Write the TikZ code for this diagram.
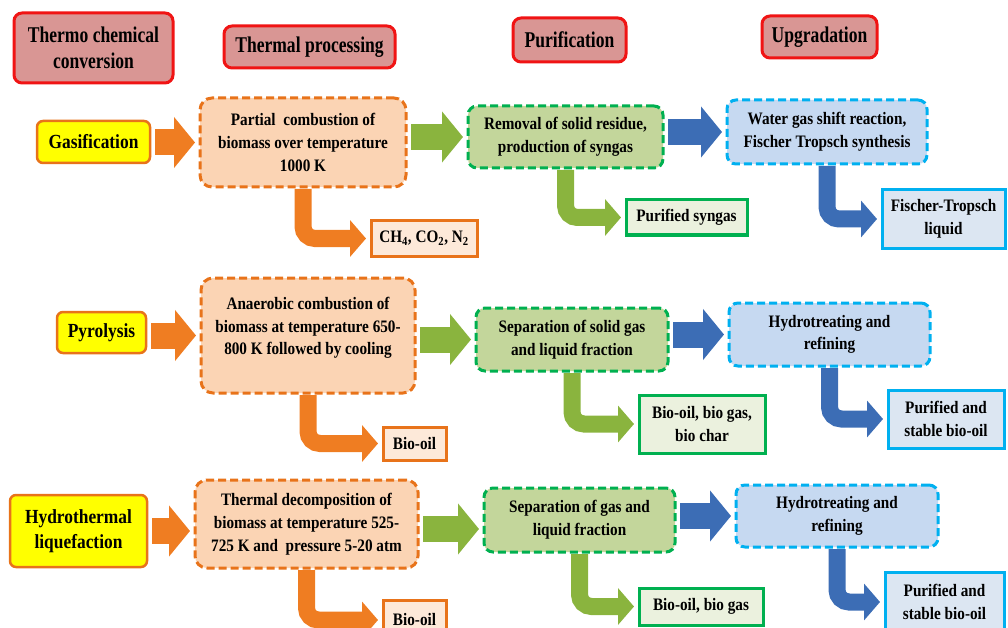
\documentclass[tikz,border=0pt]{standalone}
\usepackage{fontspec}
\setmainfont{Liberation Serif}[FakeStretch=0.87]
\newfontfamily\hdfont{Liberation Serif}[FakeStretch=0.78]
\usetikzlibrary{arrows.meta,calc}
\definecolor{hdfill}{HTML}{D99694}
\definecolor{hdred}{HTML}{F01414}
\definecolor{yel}{HTML}{FFFF00}
\definecolor{orb}{HTML}{E8731A}
\definecolor{procfill}{HTML}{FBD4B4}
\definecolor{grn}{HTML}{00B050}
\definecolor{purfill}{HTML}{C3D69B}
\definecolor{cyn}{HTML}{00B0F0}
\definecolor{upfill}{HTML}{C6D9F1}
\definecolor{outofill}{HTML}{FDE9D9}
\definecolor{outgfill}{HTML}{EBF1DE}
\definecolor{outbfill}{HTML}{DCE6F2}
\definecolor{oarr}{HTML}{EF7D22}
\definecolor{garr}{HTML}{8AB43E}
\definecolor{barr}{HTML}{3C6DB5}
\begin{document}
\begin{tikzpicture}[x=1pt,y=-1pt,
  box/.style={inner sep=0pt, outer sep=0pt, align=center, text=black,
    font=\fontsize{17.5}{22.7}\selectfont\bfseries},
  hd/.style={box, draw=hdred, fill=hdfill, line width=3pt, rounded corners=8pt,
    font=\hdfont\fontsize{22.5}{26}\selectfont\bfseries},
  inp/.style={box, draw=orb, fill=yel, line width=2.5pt, rounded corners=6pt,
    font=\fontsize{20}{25}\selectfont\bfseries},
  dashbox/.style={box, line width=3pt, dash pattern=on 8pt off 4pt},
  proc/.style={dashbox, draw=orb, fill=procfill, rounded corners=12pt},
  pur/.style={dashbox, draw=grn, fill=purfill, rounded corners=9pt},
  upg/.style={dashbox, draw=cyn, fill=upfill, rounded corners=9pt},
  outo/.style={box, draw=orb, fill=outofill, line width=3pt},
  outg/.style={box, draw=grn, fill=outgfill, line width=3pt},
  outb/.style={box, draw=cyn, fill=outbfill, line width=3pt},
  harr/.style={line width=26pt, shorten <=5pt, shorten >=5pt, -{Triangle[length=21pt,width=50pt]}},
  bent/.style={line width=17pt, rounded corners=12pt, shorten <=2pt, shorten >=5pt, -{Triangle[length=16pt,width=36pt]}},
]
\useasboundingbox (0,0) rectangle (1008,628);
\clip (0,0) rectangle (1008,628);

% headers
\node[hd, minimum width=159pt, minimum height=70pt] (h1) at (93.5,48) {Thermo chemical\\conversion};
\node[hd, minimum width=171pt, minimum height=42pt] (h2) at (309.5,47) {Thermal processing};
\node[hd, minimum width=113pt, minimum height=44pt] (h3) at (569.5,40) {Purification};
\node[hd, minimum width=115pt, minimum height=42pt] (h4) at (819.5,37) {Upgradation};

% row 1
\node[inp, minimum width=113pt, minimum height=42pt] (in1) at (93.5,142) {Gasification};
\node[proc, minimum width=206pt, minimum height=89pt] (p1) at (303,142.5) {Partial\ \ combustion of\\biomass over temperature\\1000 K};
\node[pur, minimum width=195pt, minimum height=62pt] (pu1) at (565.5,137) {Removal of solid residue,\\production of syngas};
\node[upg, minimum width=200pt, minimum height=64pt] (up1) at (827,132) {Water gas shift reaction,\\Fischer Tropsch synthesis};
\node[outo, minimum width=106pt, minimum height=35pt] (o1) at (424,238.5) {CH\textsubscript{4}, CO\textsubscript{2}, N\textsubscript{2}};
\node[outg, minimum width=121pt, minimum height=35pt] (q1) at (686.5,217.5) {Purified syngas};
\node[outb, minimum width=123pt, minimum height=58pt] (r1) at (943.5,219) {Fischer-Tropsch\\liquid};

% row 2
\node[inp, minimum width=89pt, minimum height=41pt] (in2) at (101.5,332.5) {Pyrolysis};
\node[proc, minimum width=214pt, minimum height=115pt, text depth=19pt] (p2) at (308,335.5) {Anaerobic combustion of\\biomass at temperature 650-\\800 K followed by cooling};
\node[pur, minimum width=192pt, minimum height=63pt] (pu2) at (572,339.5) {Separation of solid gas\\and liquid fraction};
\node[upg, minimum width=201pt, minimum height=63pt] (up2) at (829.5,334.5) {Hydrotreating and\\refining};
\node[outo, minimum width=63pt, minimum height=33pt] (o2) at (414.5,443.5) {Bio-oil};
\node[outg, minimum width=126pt, minimum height=58pt] (q2) at (702,424) {Bio-oil, bio gas,\\bio char};
\node[outb, minimum width=116pt, minimum height=58pt] (r2) at (946,419) {Purified and\\stable bio-oil};

% row 3
\node[inp, minimum width=137pt, minimum height=72pt] (in3) at (78.5,531) {Hydrothermal\\liquefaction};
\node[proc, minimum width=223pt, minimum height=88pt] (p3) at (306.5,524) {Thermal decomposition of\\biomass at temperature 525-\\725 K and\ \ pressure 5-20 atm};
\node[pur, minimum width=191pt, minimum height=64pt] (pu3) at (579.5,520) {Separation of gas and\\liquid fraction};
\node[upg, minimum width=202pt, minimum height=62pt] (up3) at (837,516) {Hydrotreating and\\refining};
\node[outo, minimum width=63pt, minimum height=40pt] (o3) at (414.5,620) {Bio-oil};
\node[outg, minimum width=124pt, minimum height=37pt] (q3) at (701,606.5) {Bio-oil, bio gas};
\node[outb, minimum width=119pt, minimum height=60pt] (r3) at (944.5,602) {Purified and\\stable bio-oil};

% straight arrows
\draw[harr, draw=oarr] (in1.east |- p1.west) -- (p1.west);
\draw[harr, draw=garr] (p1.east |- pu1.west) -- (pu1.west);
\draw[harr, draw=barr] (pu1.east |- up1.west) -- (up1.west);

\draw[harr, draw=oarr] (in2.east |- p2.west) -- (p2.west);
\draw[harr, draw=garr] (p2.east |- pu2.west) -- (pu2.west);
\draw[harr, draw=barr] (pu2.east |- up2.west) -- (up2.west);

\coordinate (a3) at ($(p3.east)+(0,5)$);
\draw[harr, draw=oarr] (in3.east) -- (in3.east -| p3.west);
\draw[harr, draw=garr] (a3) -- (a3 -| pu3.west);
\draw[harr, draw=barr] (pu3.east |- up3.west) -- (up3.west);

% bent arrows
\draw[bent, draw=oarr] (p1.south) |- (o1.west);
\draw[bent, draw=garr] (pu1.south) |- (q1.west);
\draw[bent, draw=barr] (up1.south) |- (r1.west);

\draw[bent, draw=oarr] (p2.south) |- (o2.west);
\draw[bent, draw=garr] (pu2.south) |- (q2.west);
\draw[bent, draw=barr] (up2.south) |- (r2.west);

\draw[bent, draw=oarr] (p3.south) |- (o3.west);
\draw[bent, draw=garr] (pu3.south) |- (q3.west);
\draw[bent, draw=barr] (up3.south) |- (r3.west);
\end{tikzpicture}
\end{document}
